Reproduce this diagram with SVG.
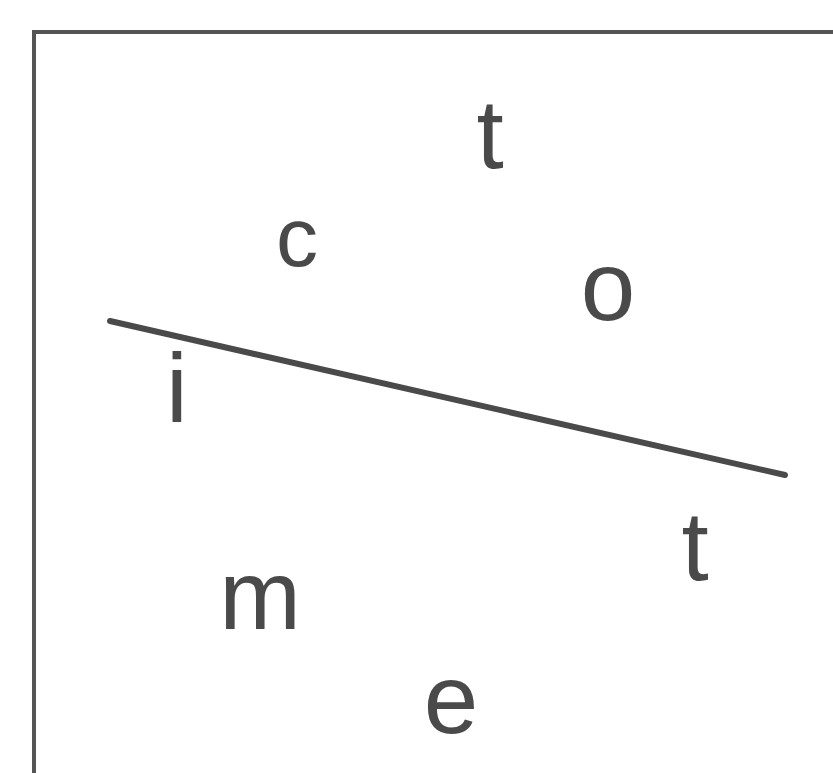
<svg xmlns="http://www.w3.org/2000/svg" width="833" height="773" viewBox="0 0 833 773">
<style>
.l{font-family:"Liberation Sans",Arial,sans-serif;font-size:98px;fill:#4a4a4a;text-anchor:middle}
</style>
<rect width="833" height="773" fill="#ffffff"/>
<g id="frame"><path d="M34,790 V32 H840" fill="none" stroke="#555" stroke-width="4"/></g>
<g id="connectors"><line x1="110" y1="321" x2="785" y2="475" stroke="#4a4a4a" stroke-width="6" stroke-linecap="round"/></g>
<g id="t1"><text class="l" x="490" y="168">t</text></g>
<g id="c"><text class="l" x="297" y="266" style="font-size:84px">c</text></g>
<g id="o"><text class="l" x="608" y="320">o</text></g>
<g id="i"><text class="l" x="177" y="422">i</text></g>
<g id="t2"><text class="l" x="695" y="580">t</text></g>
<g id="m"><text class="l" x="260" y="629">m</text></g>
<g id="e"><text class="l" x="451" y="733">e</text></g>
</svg>
